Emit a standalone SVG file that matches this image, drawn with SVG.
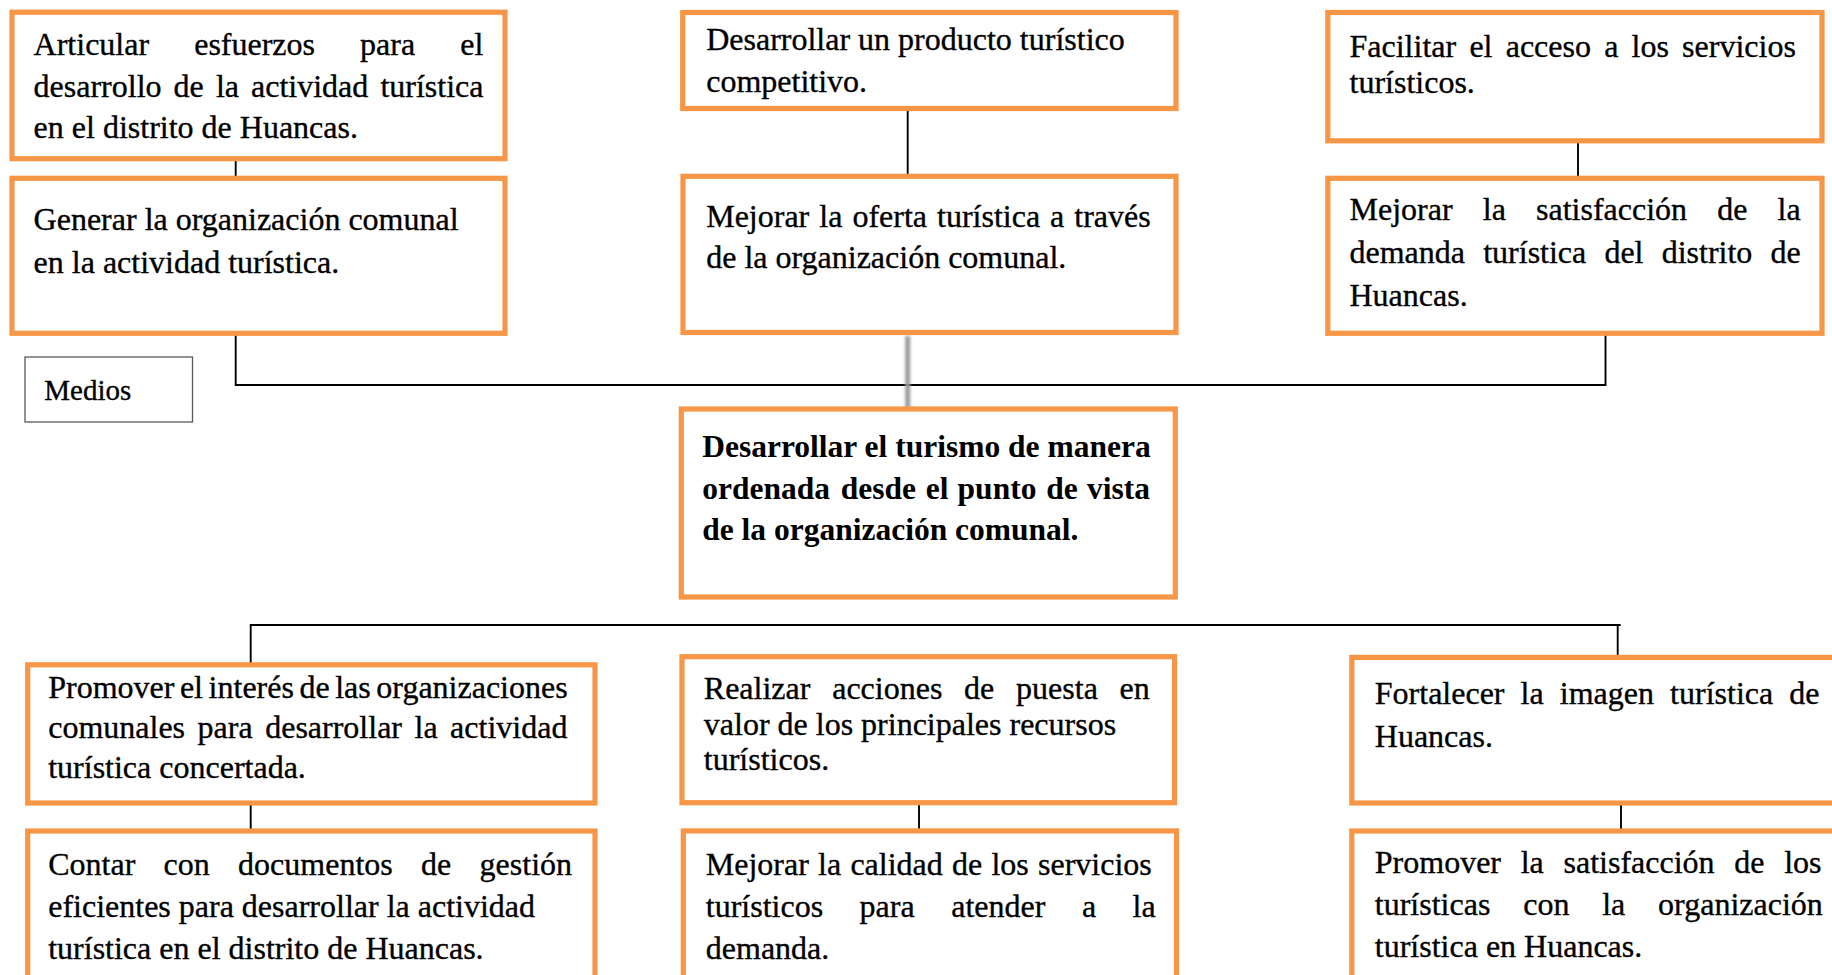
<svg xmlns="http://www.w3.org/2000/svg" width="1832" height="975" viewBox="0 0 1832 975">
<style>
.box{fill:#fff;stroke:#F79646;stroke-width:5.2}
.t{font-family:"Liberation Serif","Times New Roman",serif;font-size:32px;fill:#000;stroke:#000;stroke-width:0.35}
.b{font-family:"Liberation Serif","Times New Roman",serif;font-size:31.5px;font-weight:bold;fill:#000}
.ln{stroke:#000;stroke-width:1.9;fill:none}
.lbl{fill:#fff;stroke:#595959;stroke-width:1.3}
</style>
<defs>
<filter id="blur" filterUnits="userSpaceOnUse" x="890" y="320" width="36" height="110"><feGaussianBlur stdDeviation="1.7"/></filter>
</defs>
<rect width="1832" height="975" fill="#fff"/>

<g id="connectors">
<line class="ln" x1="235.7" y1="158" x2="235.7" y2="179"/>
<polyline class="ln" points="235.7,333 235.7,385 1605.5,385 1605.5,333"/>
<line class="ln" x1="907.7" y1="107" x2="907.7" y2="176"/>
<line class="ln" x1="1578" y1="140" x2="1578" y2="178"/>
<rect x="905.2" y="336" width="5" height="77" fill="#9a9a9a" filter="url(#blur)"/>
<polyline class="ln" points="250.7,665 250.7,625 1620.7,625"/>
<line class="ln" x1="1617.7" y1="625" x2="1617.7" y2="657"/>
<line class="ln" x1="250.7" y1="803" x2="250.7" y2="831"/>
<line class="ln" x1="919" y1="802.6" x2="919" y2="831"/>
<line class="ln" x1="1621" y1="803" x2="1621" y2="831"/>
</g>

<g id="n-articular">
<rect class="box" x="12" y="12.2" width="493" height="146.5"/>
<text class="t" y="55"><tspan x="33.6">Articular</tspan><tspan x="194.2">esfuerzos</tspan><tspan x="360.1">para</tspan><tspan x="460.3">el</tspan></text>
<text class="t" y="96.7"><tspan x="33.6">desarrollo</tspan><tspan x="173.6">de</tspan><tspan x="215.9">la</tspan><tspan x="251">actividad</tspan><tspan x="380.4">turística</tspan></text>
<text class="t" x="33.6" y="138.3">en el distrito de Huancas.</text>
</g>

<g id="n-generar">
<rect class="box" x="12" y="178.3" width="493" height="155"/>
<text class="t" x="33.6" y="230">Generar la organización comunal</text>
<text class="t" x="33.6" y="272.7">en la actividad turística.</text>
</g>

<g id="n-producto">
<rect class="box" x="682.7" y="12.5" width="493.3" height="96"/>
<text class="t" x="706.2" y="50">Desarrollar un producto turístico</text>
<text class="t" x="706.2" y="91.7">competitivo.</text>
</g>

<g id="n-oferta">
<rect class="box" x="683" y="176.3" width="493" height="156.2"/>
<text class="t" y="227"><tspan x="706.2">Mejorar</tspan><tspan x="819.3">la</tspan><tspan x="852.4">oferta</tspan><tspan x="937">turística</tspan><tspan x="1050.1">a</tspan><tspan x="1074.3">través</tspan></text>
<text class="t" x="706.2" y="268">de la organización comunal.</text>
</g>

<g id="n-facilitar">
<rect class="box" x="1327.8" y="12.5" width="494.2" height="128.3"/>
<text class="t" y="56.7"><tspan x="1349.5">Facilitar</tspan><tspan x="1469.4">el</tspan><tspan x="1505.7">acceso</tspan><tspan x="1604.2">a</tspan><tspan x="1631.6">los</tspan><tspan x="1682.1">servicios</tspan></text>
<text class="t" x="1349.5" y="93.3">turísticos.</text>
</g>

<g id="n-satisfaccion">
<rect class="box" x="1327.8" y="178.3" width="494.2" height="155"/>
<text class="t" y="220"><tspan x="1349.5">Mejorar</tspan><tspan x="1482.8">la</tspan><tspan x="1536">satisfacción</tspan><tspan x="1717.3">de</tspan><tspan x="1777.6">la</tspan></text>
<text class="t" y="263"><tspan x="1349.5">demanda</tspan><tspan x="1483.2">turística</tspan><tspan x="1604.4">del</tspan><tspan x="1661.7">distrito</tspan><tspan x="1770.5">de</tspan></text>
<text class="t" x="1349.5" y="306">Huancas.</text>
</g>

<g id="n-medios">
<rect class="lbl" x="25" y="357" width="167.5" height="65"/>
<text class="t" x="44.3" y="400" style="font-size:29px">Medios</text>
</g>

<g id="n-central">
<rect class="box" x="681.3" y="409" width="494" height="188"/>
<text class="b" x="702.2" y="457">Desarrollar el turismo de manera</text>
<text class="b" y="499"><tspan x="702.2">ordenada</tspan><tspan x="840.7">desde</tspan><tspan x="925.8">el</tspan><tspan x="957.6">punto</tspan><tspan x="1046.3">de</tspan><tspan x="1087">vista</tspan></text>
<text class="b" x="702.2" y="540">de la organización comunal.</text>
</g>

<g id="n-promover-interes">
<rect class="box" x="27.7" y="664.8" width="567.3" height="138.2"/>
<text class="t" y="698"><tspan x="48.2">Promover</tspan><tspan x="179.9">el</tspan><tspan x="208.6">interés</tspan><tspan x="299.4">de</tspan><tspan x="335.2">las</tspan><tspan x="376.3">organizaciones</tspan></text>
<text class="t" y="738"><tspan x="48.2">comunales</tspan><tspan x="197.6">para</tspan><tspan x="265.2">desarrollar</tspan><tspan x="414.5">la</tspan><tspan x="450.1">actividad</tspan></text>
<text class="t" x="48.2" y="778">turística concertada.</text>
</g>

<g id="n-contar">
<rect class="box" x="27.7" y="831" width="567.3" height="170"/>
<text class="t" y="875"><tspan x="48.2">Contar</tspan><tspan x="163.6">con</tspan><tspan x="238.1">documentos</tspan><tspan x="421.1">de</tspan><tspan x="479.6">gestión</tspan></text>
<text class="t" x="48.2" y="917">eficientes para desarrollar la actividad</text>
<text class="t" x="48.2" y="959">turística en el distrito de Huancas.</text>
</g>

<g id="n-realizar">
<rect class="box" x="682" y="656.7" width="492.5" height="146"/>
<text class="t" y="699"><tspan x="703.8">Realizar</tspan><tspan x="832.2">acciones</tspan><tspan x="964.1">de</tspan><tspan x="1016.1">puesta</tspan><tspan x="1119.6">en</tspan></text>
<text class="t" x="703.8" y="735">valor de los principales recursos</text>
<text class="t" x="703.8" y="770">turísticos.</text>
</g>

<g id="n-calidad">
<rect class="box" x="683.3" y="830.9" width="493.2" height="170"/>
<text class="t" y="875"><tspan x="705.8">Mejorar</tspan><tspan x="818.1">la</tspan><tspan x="850.4">calidad</tspan><tspan x="952">de</tspan><tspan x="991.4">los</tspan><tspan x="1038">servicios</tspan></text>
<text class="t" y="917"><tspan x="705.8">turísticos</tspan><tspan x="859.6">para</tspan><tspan x="951.2">atender</tspan><tspan x="1081.9">a</tspan><tspan x="1132.6">la</tspan></text>
<text class="t" x="705.8" y="959">demanda.</text>
</g>

<g id="n-fortalecer">
<rect class="box" x="1351.8" y="657.4" width="500" height="145.6"/>
<text class="t" y="704"><tspan x="1374.8">Fortalecer</tspan><tspan x="1520.6">la</tspan><tspan x="1559.8">imagen</tspan><tspan x="1670.1">turística</tspan><tspan x="1789.3">de</tspan></text>
<text class="t" x="1374.8" y="746.5">Huancas.</text>
</g>

<g id="n-promover-satisfaccion">
<rect class="box" x="1351.8" y="831" width="500" height="170"/>
<text class="t" y="873"><tspan x="1374.8">Promover</tspan><tspan x="1520.7">la</tspan><tspan x="1563.5">satisfacción</tspan><tspan x="1734.3">de</tspan><tspan x="1784.2">los</tspan></text>
<text class="t" y="915"><tspan x="1374.8">turísticas</tspan><tspan x="1523.2">con</tspan><tspan x="1602.2">la</tspan><tspan x="1658.1">organización</tspan></text>
<text class="t" x="1374.8" y="957">turística en Huancas.</text>
</g>
</svg>
